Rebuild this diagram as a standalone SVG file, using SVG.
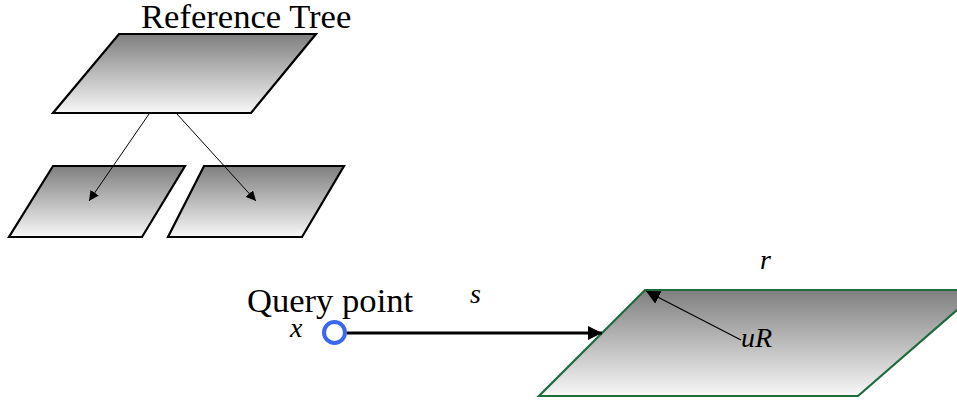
<svg xmlns="http://www.w3.org/2000/svg" width="957" height="400" viewBox="0 0 957 400">
<defs>
<linearGradient id="g" x1="0" y1="0" x2="0" y2="1">
<stop offset="0" stop-color="#7f7f7f"/>
<stop offset="1" stop-color="#f7f7f7"/>
</linearGradient>
<marker id="ah" viewBox="0 0 10 10" refX="10" refY="5" markerWidth="10" markerHeight="10" markerUnits="userSpaceOnUse" orient="auto">
<path d="M0,0 L10,5 L0,10 z" fill="#000"/>
</marker>
<marker id="ahb" viewBox="0 0 10 10" refX="10" refY="5" markerWidth="14" markerHeight="14" markerUnits="userSpaceOnUse" orient="auto">
<path d="M0,0 L10,5 L0,10 z" fill="#000"/>
</marker>
</defs>
<style>
.tree{fill:url(#g);stroke:#000;stroke-width:2.2;stroke-linejoin:miter}
.ref{fill:url(#g);stroke:#1f6b3c;stroke-width:2.2}
.lbl{font-family:"Liberation Serif",serif;font-size:34.6px;fill:#000}
.it{font-family:"Liberation Serif",serif;font-style:italic;font-size:28px;fill:#000}
</style>
<g id="root-node">
<polygon class="tree" points="119,34 316,34 251,113 53,113"/>
<text class="lbl" x="141" y="28">Reference Tree</text>
</g>
<g id="left-child">
<polygon class="tree" points="53,166 185,166 142,237 9,237"/>
</g>
<g id="right-child">
<polygon class="tree" points="204,166 344,166 302,237 168,237"/>
</g>
<g id="reference-node">
<polygon class="ref" points="645,290 980,290 858,396 539,396"/>
<text class="it" x="760" y="269">r</text>
</g>
<g id="query-point">
<circle cx="334.5" cy="332.5" r="10.5" fill="#fff" stroke="#3a66f2" stroke-width="4"/>
<text class="lbl" x="247" y="312">Query point</text>
<text class="it" x="290" y="337">x</text>
</g>
<g id="connectors">
<line x1="347" y1="333" x2="602" y2="333" stroke="#000" stroke-width="3" marker-end="url(#ahb)"/>
<line x1="149" y1="114" x2="89" y2="201" stroke="#000" stroke-width="1" marker-end="url(#ah)"/>
<line x1="177" y1="114" x2="256" y2="201" stroke="#000" stroke-width="1" marker-end="url(#ah)"/>
<text class="it" x="470" y="303">s</text>
<line x1="741" y1="340" x2="646" y2="291" stroke="#000" stroke-width="1.2" marker-end="url(#ahb)"/>
<text class="it" x="741" y="347">uR</text>
</g>
</svg>
